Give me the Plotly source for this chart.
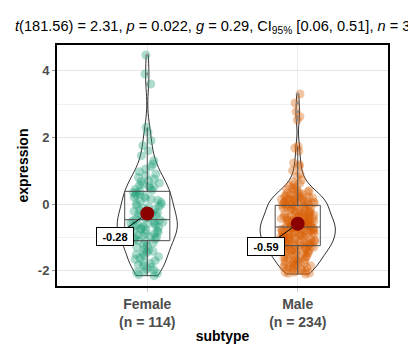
import numpy as np
import plotly.graph_objects as go

categories = ["Female", "Male"]

female_expression = [
    -2.15, -2.12, -2.08, -2.05, -2.02, -1.98, -1.95, -1.90, -1.86, -1.82,
    -1.78, -1.74, -1.70, -1.66, -1.62, -1.58, -1.55, -1.52, -1.48, -1.45,
    -1.42, -1.38, -1.34, -1.30, -1.26, -1.22, -1.17, -1.12,
    -1.10, -1.07, -1.05, -1.02, -1.00, -0.98, -0.95, -0.93, -0.90, -0.88,
    -0.85, -0.83, -0.80, -0.78, -0.76, -0.74, -0.72, -0.70, -0.68, -0.66,
    -0.64, -0.62, -0.60, -0.58, -0.56, -0.54, -0.52, -0.50, -0.48,
    -0.46, -0.43, -0.40, -0.37, -0.34, -0.31, -0.28, -0.25, -0.22, -0.19,
    -0.16, -0.13, -0.10, -0.07, -0.04, -0.01, 0.02, 0.05, 0.08, 0.11,
    0.14, 0.17, 0.20, 0.23, 0.26, 0.29, 0.32, 0.35,
    0.38, 0.41, 0.44, 0.47, 0.50, 0.53, 0.56, 0.60, 0.63, 0.67,
    0.70, 0.75, 0.80, 0.85, 0.90, 0.97, 1.05, 1.12, 1.20, 1.30,
    1.45, 1.60, 1.75, 1.90, 2.15, 2.30, 3.60, 3.90, 4.47,
]

male_expression = [
    -2.10, -2.08, -2.07, -2.05, -2.04, -2.02, -2.00, -1.99, -1.97, -1.95,
    -1.94, -1.92, -1.90, -1.89, -1.87, -1.85, -1.84, -1.82, -1.80, -1.79,
    -1.77, -1.75, -1.74, -1.72, -1.70, -1.69, -1.67, -1.65, -1.64, -1.62,
    -1.60, -1.59, -1.57, -1.55, -1.54, -1.52, -1.50, -1.49, -1.47, -1.45,
    -1.44, -1.42, -1.41, -1.40, -1.39, -1.38, -1.37, -1.36, -1.35, -1.34,
    -1.33, -1.32, -1.31, -1.30, -1.29, -1.28, -1.27, -1.26, -1.25,
    -1.24, -1.23, -1.22, -1.21, -1.20, -1.19, -1.18, -1.17, -1.16, -1.15,
    -1.14, -1.13, -1.12, -1.11, -1.10, -1.09, -1.08, -1.07, -1.06, -1.05,
    -1.04, -1.03, -1.02, -1.01, -1.00, -0.99, -0.98, -0.97, -0.96, -0.95,
    -0.94, -0.93, -0.92, -0.91, -0.90, -0.89, -0.88, -0.87, -0.86, -0.85,
    -0.84, -0.83, -0.82, -0.81, -0.80, -0.79, -0.78, -0.77, -0.76, -0.75,
    -0.74, -0.73, -0.72, -0.71, -0.71, -0.70, -0.70, -0.69,
    -0.69, -0.68, -0.67, -0.66, -0.65, -0.64, -0.63, -0.62, -0.61, -0.60,
    -0.59, -0.58, -0.57, -0.56, -0.55, -0.54, -0.53, -0.52, -0.51, -0.50,
    -0.49, -0.48, -0.47, -0.46, -0.45, -0.44, -0.43, -0.42, -0.41, -0.40,
    -0.39, -0.38, -0.37, -0.36, -0.35, -0.34, -0.33, -0.32, -0.31, -0.30,
    -0.29, -0.27, -0.26, -0.24, -0.23, -0.21, -0.20, -0.18, -0.16, -0.14,
    -0.13, -0.12, -0.11, -0.10, -0.09, -0.08, -0.07, -0.07,
    -0.04, -0.03, -0.02, -0.01, 0.00, 0.01, 0.02, 0.03, 0.04, 0.05,
    0.06, 0.07, 0.08, 0.09, 0.10, 0.11, 0.12, 0.13, 0.14, 0.15,
    0.16, 0.17, 0.18, 0.20, 0.21, 0.22, 0.24, 0.25, 0.27, 0.28,
    0.30, 0.32, 0.34, 0.36, 0.38, 0.40, 0.42, 0.44, 0.47, 0.50,
    0.53, 0.57, 0.61, 0.66, 0.72, 0.82, 0.90, 1.00, 1.13, 1.18,
    1.23, 1.59, 1.68, 1.73, 2.52, 2.62, 2.77, 3.03, 3.30,
]

y_tick_values = [-2, 0, 2, 4]
y_tick_labels = ["-2", "0", "2", "4"]
y_minor_values = [-1, 1, 3]

title_text = ("<i>t</i>(181.56) = 2.31, <i>p</i> = 0.022, <i>g</i> = 0.29, "
              "CI<sub>95%</sub> [0.06, 0.51], <i>n</i> = 348")

point_colors = ["rgba(27,158,119,0.36)", "rgba(217,95,2,0.36)"]
violin_widths = [0.40, 0.50]

FONT = "Liberation Sans, Arial, sans-serif"

groups = [female_expression, male_expression]

fig = go.Figure()


def nrd0(v):
    v = np.asarray(v)
    iqr = np.subtract(*np.percentile(v, [75, 25]))
    return 0.9 * min(v.std(ddof=1), iqr / 1.34) * len(v) ** -0.2


# violins
for cat, vals, w in zip(categories, groups, violin_widths):
    fig.add_trace(go.Violin(
        x=[cat] * len(vals), y=vals, width=w, spanmode="hard",
        bandwidth=nrd0(vals), scalemode="width",
        line=dict(color="black", width=0.8),
        fillcolor="rgba(255,255,255,0.2)",
        points=False, box_visible=False, meanline_visible=False,
        hoverinfo="skip", showlegend=False,
    ))

# jittered points
for cat, vals, col in zip(categories, groups, point_colors):
    fig.add_trace(go.Box(
        x=[cat] * len(vals), y=vals, width=0.24,
        boxpoints="all", jitter=0.95, pointpos=0, whiskerwidth=0,
        fillcolor="rgba(0,0,0,0)", line=dict(color="rgba(0,0,0,0)", width=0),
        marker=dict(color=col, size=9, line=dict(width=0)),
        hoverinfo="skip", showlegend=False,
    ))

# boxplots
for cat, vals in zip(categories, groups):
    fig.add_trace(go.Box(
        x=[cat] * len(vals), y=vals, width=0.3, whiskerwidth=0,
        boxpoints="outliers", jitter=0, pointpos=0,
        fillcolor="rgba(0,0,0,0)", line=dict(color="#4d4d4d", width=1),
        marker=dict(color="#8c8c8c", size=3),
        hoverinfo="skip", showlegend=False,
    ))

means = [float(np.mean(v)) for v in groups]
fig.add_trace(go.Scatter(
    x=categories, y=means, mode="markers",
    marker=dict(color="#8B0000", size=14),
    hoverinfo="skip", showlegend=False,
))

for cat, m in zip(categories, means):
    fig.add_annotation(
        x=cat, y=m, text=f"<b>{m:.2f}</b>", showarrow=True,
        ax=-32, ay=23, arrowhead=0, arrowwidth=1, arrowcolor="black",
        standoff=7, bgcolor="white", bordercolor="black", borderwidth=1,
        width=34, height=15, font=dict(family=FONT, size=11, color="black"),
    )

tick_text = [f"{c}<br>(n = {len(v)})" for c, v in zip(categories, groups)]

fig.update_layout(
    width=408, height=362,
    margin=dict(l=57, r=20, t=45, b=76),
    paper_bgcolor="white", plot_bgcolor="white",
    font=dict(family=FONT),
    boxmode="overlay", violinmode="overlay",
    title=dict(text=title_text, x=15 / 408, xanchor="left", xref="container",
               y=1 - 26 / 362, yanchor="middle", yref="container",
               font=dict(family=FONT, size=14.6, color="black")),
    xaxis=dict(
        range=[-0.6, 1.6], tickvals=categories, ticktext=tick_text,
        tickfont=dict(family=FONT, size=14, color="#4d4d4d", weight="bold"),
        showgrid=True, gridcolor="#ebebeb", gridwidth=1,
        ticks="outside", ticklen=4, tickcolor="#cccccc",
        showline=True, linecolor="black", linewidth=2, mirror=True,
        automargin=False,
        title=dict(text="subtype", standoff=2,
                   font=dict(family=FONT, size=14, color="black", weight="bold")),
        zeroline=False,
    ),
    yaxis=dict(
        range=[-2.46, 4.77], tickvals=y_tick_values, ticktext=y_tick_labels,
        tickfont=dict(family=FONT, size=13, color="#4d4d4d", weight="bold"),
        showgrid=True, gridcolor="#e6e6e6", gridwidth=1,
        minor=dict(tickvals=y_minor_values, showgrid=True, gridcolor="#f0f0f0", gridwidth=1),
        ticks="outside", ticklen=3, tickcolor="#999999",
        showline=True, linecolor="black", linewidth=2, mirror=True,
        zeroline=False, automargin=False,
        title=dict(text="expression", standoff=6,
                   font=dict(family=FONT, size=14, color="black", weight="bold")),
    ),
)

fig.write_html("out.html", config={"displayModeBar": False},
               post_script="document.body.style.margin='0';")
